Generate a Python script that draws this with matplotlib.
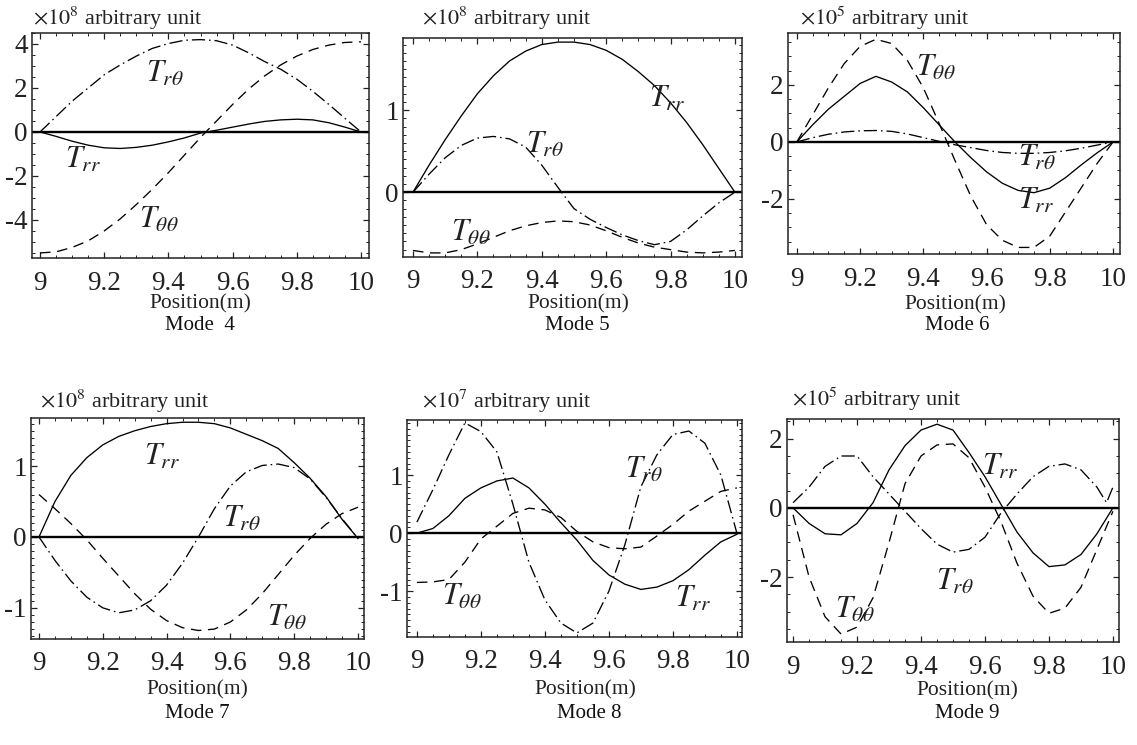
import matplotlib
matplotlib.use("Agg")
import matplotlib.pyplot as plt
from matplotlib.ticker import MultipleLocator

plt.rcParams['font.family'] = ['Liberation Serif', 'DejaVu Serif']
plt.rcParams['mathtext.fontset'] = 'stix'
plt.rcParams['axes.unicode_minus'] = False

# ---------------- data ----------------
x = [9.00, 9.05, 9.10, 9.15, 9.20, 9.25, 9.30, 9.35, 9.40, 9.45, 9.50,
     9.55, 9.60, 9.65, 9.70, 9.75, 9.80, 9.85, 9.90, 9.95, 10.00]

# Mode 4 (x1e8)
m4_trr = [0, -0.2, -0.42, -0.6, -0.72, -0.75, -0.7, -0.6, -0.45, -0.27, -0.05,
          0.08, 0.22, 0.36, 0.48, 0.55, 0.58, 0.55, 0.42, 0.22, 0]
m4_trt = [0, 0.7, 1.4, 2.0, 2.6, 3.05, 3.45, 3.8, 4.02, 4.17, 4.2,
          4.15, 3.95, 3.6, 3.2, 2.85, 2.4, 1.85, 1.25, 0.62, 0]
m4_ttt = [-5.5, -5.45, -5.25, -4.95, -4.5, -3.95, -3.3, -2.6, -1.85, -1.05, -0.25,
          0.5, 1.25, 1.95, 2.55, 3.05, 3.45, 3.75, 3.95, 4.07, 4.1]

# Mode 5 (x1e8)
m5_trr = [0, 0.33, 0.64, 0.93, 1.2, 1.42, 1.6, 1.72, 1.8, 1.83, 1.83,
          1.8, 1.73, 1.62, 1.47, 1.3, 1.09, 0.85, 0.58, 0.29, 0]
m5_trt = [0, 0.22, 0.42, 0.57, 0.66, 0.68, 0.65, 0.55, 0.33, 0.06, -0.2,
          -0.33, -0.43, -0.52, -0.59, -0.64, -0.6, -0.46, -0.29, -0.13, 0]
m5_ttt = [-0.71, -0.74, -0.74, -0.7, -0.63, -0.55, -0.47, -0.41, -0.37, -0.35, -0.36,
          -0.4, -0.47, -0.55, -0.62, -0.67, -0.7, -0.73, -0.74, -0.73, -0.71]

# Mode 6 (x1e5)
m6_trr = [0, 0.6, 1.15, 1.6, 2.05, 2.3, 2.1, 1.75, 1.2, 0.6, 0.0,
          -0.55, -1.05, -1.45, -1.7, -1.78, -1.62, -1.25, -0.8, -0.38, 0]
m6_trt = [0, 0.15, 0.27, 0.35, 0.39, 0.4, 0.37, 0.28, 0.15, 0.02, -0.1,
          -0.2, -0.3, -0.37, -0.4, -0.4, -0.37, -0.31, -0.22, -0.11, 0]
m6_ttt = [0, 0.95, 1.9, 2.75, 3.35, 3.6, 3.45, 2.85, 1.9, 0.65, -0.65,
          -1.9, -2.9, -3.45, -3.7, -3.7, -3.3, -2.45, -1.6, -0.75, 0]

# Mode 7 (x1e8)
m7_trr = [0, 0.5, 0.87, 1.12, 1.3, 1.42, 1.5, 1.56, 1.6, 1.62, 1.62,
          1.6, 1.54, 1.45, 1.36, 1.25, 1.05, 0.83, 0.57, 0.25, -0.02]
m7_trt = [0, -0.33, -0.62, -0.85, -1.0, -1.07, -1.03, -0.9, -0.68, -0.37, 0.0,
          0.4, 0.72, 0.92, 1.01, 1.03, 0.98, 0.82, 0.56, 0.26, -0.02]
m7_ttt = [0.6, 0.4, 0.19, -0.04, -0.3, -0.55, -0.8, -1.02, -1.18, -1.28, -1.32,
          -1.3, -1.2, -1.03, -0.8, -0.53, -0.26, -0.02, 0.18, 0.33, 0.42]

# Mode 8 (x1e7)
m8_trr = [0, 0.08, 0.3, 0.6, 0.78, 0.9, 0.95, 0.78, 0.5, 0.18, -0.12,
          -0.47, -0.72, -0.88, -0.97, -0.93, -0.82, -0.63, -0.38, -0.15, -0.02]
m8_trt = [0.19, 0.75, 1.35, 1.9, 1.75, 1.4, 0.5, -0.5, -1.15, -1.55, -1.72,
          -1.55, -1.0, -0.2, 0.8, 1.35, 1.7, 1.76, 1.55, 1.0, 0]
m8_ttt = [-0.85, -0.84, -0.8, -0.5, -0.1, 0.12, 0.34, 0.43, 0.4, 0.27, 0.03,
          -0.15, -0.25, -0.27, -0.24, -0.05, 0.15, 0.38, 0.55, 0.72, 0.78]

# Mode 9 (x1e5)
m9_trr = [0, -0.45, -0.75, -0.78, -0.45, 0.15, 1.1, 1.8, 2.25, 2.42, 2.25,
          1.6, 0.9, 0.1, -0.7, -1.3, -1.7, -1.65, -1.35, -0.75, 0]
m9_trt_x = [9.00, 9.05, 9.10, 9.15, 9.20, 9.25, 9.30, 9.35, 9.40, 9.45, 9.50,
            9.55, 9.60, 9.65, 9.70, 9.75, 9.80, 9.85, 9.90, 9.95, 9.98, 10.00]
m9_trt = [0.15, 0.6, 1.2, 1.5, 1.5, 0.9, 0.4, -0.1, -0.6, -1.05, -1.28,
          -1.2, -0.85, -0.15, 0.4, 0.9, 1.2, 1.27, 1.1, 0.6, 0.15, 0.6]
m9_ttt = [-0.2, -2.0, -3.15, -3.65, -3.45, -2.6, -1.0, 0.7, 1.5, 1.82, 1.85,
          1.45, 0.6, -0.4, -1.6, -2.55, -3.05, -2.9, -2.3, -1.2, -0.1]

xticks = [9, 9.2, 9.4, 9.6, 9.8, 10]
xticklabels = ['9', '9.2', '9.4', '9.6', '9.8', '10']
exponents = [8, 8, 5, 8, 7, 5]
modes = ['Mode  4', 'Mode 5', 'Mode 6', 'Mode 7', 'Mode 8', 'Mode 9']

# ---------------- layout ----------------
W, H = 1137, 745
fig = plt.figure(figsize=(W / 100, H / 100), dpi=100)

def fx(p):
    return p / W

def fy(p):
    return 1 - p / H

boxes = [(32, 33, 369, 258), (403, 38, 742, 257), (788, 33, 1120, 254),
         (31, 418, 364, 639), (407, 420, 742, 637), (787, 419, 1119, 642)]
xlims = [(8.975, 10.025), (8.969, 10.022), (8.972, 10.022),
         (8.975, 10.019), (8.969, 10.016), (8.981, 10.019)]
ylims = [(-5.73, 4.5), (-0.79, 1.88), (-3.93, 3.82),
         (-1.44, 1.68), (-1.79, 1.95), (-3.88, 2.57)]
yticks = [[-4, -2, 0, 2, 4], [0, 1], [-2, 0, 2], [-1, 0, 1], [-1, 0, 1], [-2, 0, 2]]
yminor = [0.5, 0.1, 0.5, 0.1, 0.1, 0.5]
header_pos = [(33, 25), (422, 25), (800, 25), (40, 408), (422, 408), (792, 406)]
pos_pos = [(200, 304), (578, 304), (955, 305), (197, 690), (585, 690), (967, 691)]
mode_pos = [(200, 326), (577, 326), (957, 326), (197, 713), (589, 713), (967, 713)]

series = [
    [(x, m4_trr, 'solid'), (x, m4_trt, 'dashdot'), (x, m4_ttt, 'dashed')],
    [(x, m5_trr, 'solid'), (x, m5_trt, 'dashdot'), (x, m5_ttt, 'dashed')],
    [(x, m6_trr, 'solid'), (x, m6_trt, 'dashdot'), (x, m6_ttt, 'dashed')],
    [(x, m7_trr, 'solid'), (x, m7_trt, 'dashdot'), (x, m7_ttt, 'dashed')],
    [(x, m8_trr, 'solid'), (x, m8_trt, 'dashdot'), (x, m8_ttt, 'dashed')],
    [(x, m9_trr, 'solid'), (m9_trt_x, m9_trt, 'dashdot'), (x, m9_ttt, 'dashed')],
]

labels = [
    [(9.135, -1.27, r'$T_{rr}$'), (9.39, 2.64, r'$T_{r\theta}$'), (9.37, -4.0, r'$T_{\theta\theta}$')],
    [(9.79, 1.13, r'$T_{rr}$'), (9.41, 0.57, r'$T_{r\theta}$'), (9.18, -0.5, r'$T_{\theta\theta}$')],
    [(9.756, -2.09, r'$T_{rr}$'), (9.76, -0.57, r'$T_{r\theta}$'), (9.44, 2.59, r'$T_{\theta\theta}$')],
    [(9.387, 1.13, r'$T_{rr}$'), (9.637, 0.25, r'$T_{r\theta}$'), (9.776, -1.15, r'$T_{\theta\theta}$')],
    [(9.864, -1.13, r'$T_{rr}$'), (9.71, 1.09, r'$T_{r\theta}$'), (9.14, -1.1, r'$T_{\theta\theta}$')],
    [(9.646, 1.17, r'$T_{rr}$'), (9.505, -2.14, r'$T_{r\theta}$'), (9.193, -2.96, r'$T_{\theta\theta}$')],
]

dash_styles = {'solid': None, 'dashed': (8, 5), 'dashdot': (10, 3, 1.2, 3)}

for i in range(6):
    l, t, r, b = boxes[i]
    ax = fig.add_axes([fx(l), fy(b), fx(r) - fx(l), (b - t) / H])
    for xs, ys, st in series[i]:
        line, = ax.plot(xs, ys, color='black', lw=0.95)
        if dash_styles[st] is not None:
            line.set_dashes(dash_styles[st])
    ax.axhline(0, color='black', lw=1.7)
    ax.set_xlim(*xlims[i])
    ax.set_ylim(*ylims[i])
    ax.set_xticks(xticks)
    ax.set_xticklabels(xticklabels)
    ax.set_yticks(yticks[i])
    ax.set_yticklabels([str(v) for v in yticks[i]])
    ax.xaxis.set_minor_locator(MultipleLocator(0.05))
    ax.yaxis.set_minor_locator(MultipleLocator(yminor[i]))
    ax.tick_params(which='both', direction='in', top=True, right=True,
                   colors='#222222', labelcolor='#222222')
    ax.tick_params(which='major', length=4, width=0.9, labelsize=19.5)
    ax.tick_params(which='minor', length=2, width=0.7)
    ax.tick_params(axis='x', pad=9)
    ax.tick_params(axis='y', pad=3)
    for sp in ax.spines.values():
        sp.set_linewidth(1.1)
        sp.set_color('#222222')
    for lx, ly, txt in labels[i]:
        ax.text(lx, ly, txt, fontsize=22, ha='center', va='center', color='#222222')

    hx, hy = header_pos[i]
    fig.text(fx(hx), fy(hy), r'$\times10^{%d}$ arbitrary unit' % exponents[i],
             fontsize=16, ha='left', va='baseline', color='#222222')
    px, py = pos_pos[i]
    fig.text(fx(px), fy(py), 'Position(m)', fontsize=15.5, ha='center', va='center',
             color='#222222')
    mx, my = mode_pos[i]
    fig.text(fx(mx), fy(my), modes[i], fontsize=15, ha='center', va='center',
             color='#111111')

fig.savefig('out.png', dpi=100)
